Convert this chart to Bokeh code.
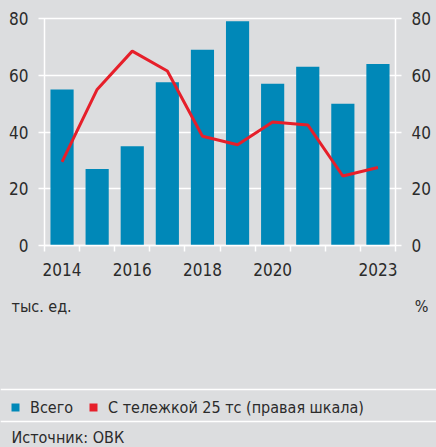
from bokeh.plotting import figure
from bokeh.models import Range1d, LinearAxis, FixedTicker, Legend, LegendItem, Label, Span
from bokeh.embed import file_html
from bokeh.resources import INLINE

# ---- data ----
years = [2014, 2015, 2016, 2017, 2018, 2019, 2020, 2021, 2022, 2023]
total = [55, 27, 35, 57.5, 69, 79, 57, 63, 50, 64]                  # тыс. ед. (left axis)
share = [29.5, 55, 68.5, 61.5, 38.5, 35.5, 43.5, 42.5, 24.5, 27.5]  # % (right axis)
y_ticks = [0, 20, 40, 60, 80]
x_label_years = [2014, 2016, 2018, 2020, 2023]
series_names = ["Всего", "С тележкой 25 тс (правая шкала)"]
unit_left = "тыс. ед."
unit_right = "%"
source_text = "Источник: ОВК"

# ---- style / layout ----
BG = "#dcdddf"
BLUE = "#0088b8"
RED = "#e61f2a"
TXT = "#2b2b2b"
FONT = "'DejaVu Sans Condensed', 'Roboto Condensed', 'Liberation Sans Narrow', Roboto, sans-serif"
FS = "16px"
TICK_FS = "17px"
W, H = 436, 447
PL, PR, PT, PB = 44, 395, 18, 245      # plot area in canvas pixels
Y_MAX = 80
TEXT_SHIFT = 5                          # baseline correction for screen labels

x0, x1 = years[0] - 0.5, years[-1] + 0.5
ppx = (PR - PL) / (x1 - x0)
ppy = (PB - PT) / Y_MAX
xr = Range1d(x0 - PL / ppx, x1 + (W - PR) / ppx)
yr = Range1d(-(H - PB) / ppy, Y_MAX + PT / ppy)

boundaries = [y - 0.5 for y in years] + [years[-1] + 0.5]

p = figure(width=W, height=H, min_border=0, x_range=xr, y_range=yr,
           x_axis_type=None, y_axis_type=None,
           output_backend="svg", toolbar_location=None)
p.extra_y_ranges = {"right": Range1d(yr.start, yr.end)}
p.background_fill_color = BG
p.border_fill_color = BG
p.outline_line_color = None
p.grid.visible = False

bars = p.vbar(x=years, top=total, width=0.66, fill_color=BLUE, line_color=None)
line = p.line(x=years, y=share, y_range_name="right", line_color=RED, line_width=3)
# square legend key for the line series (zero-width, invisible in plot)
red_key = p.vbar(x=years, top=share, bottom=share, width=0, y_range_name="right",
                 fill_color=RED, line_color=None)

left_axis = LinearAxis(fixed_location=x0, bounds=(0, Y_MAX), level="underlay")
right_axis = LinearAxis(fixed_location=x1, bounds=(0, Y_MAX), y_range_name="right")
p.add_layout(left_axis, "left")
p.add_layout(right_axis, "right")

for ax in [left_axis, right_axis]:
    ax.ticker = FixedTicker(ticks=y_ticks)
    ax.axis_line_color = "white"
    ax.axis_line_width = 1.5
    ax.major_tick_line_color = "white"
    ax.major_tick_line_width = 1.5
    ax.major_tick_out = 6
    ax.major_tick_in = 0
    ax.minor_tick_line_color = None
    ax.major_label_standoff = 10
    ax.major_label_text_font = FONT
    ax.major_label_text_font_size = TICK_FS
    ax.major_label_text_color = TXT
# horizontal grid lines: left-axis ticks drawn across the plot, behind the bars
left_axis.major_tick_in = PR - PL

xa = LinearAxis(fixed_location=0, bounds=(x0, x1))
p.add_layout(xa, "below")
xa.ticker = FixedTicker(ticks=x_label_years, minor_ticks=boundaries)
xa.axis_line_color = "white"
xa.axis_line_width = 1.5
xa.major_tick_out = 0
xa.major_tick_in = 0
xa.minor_tick_line_color = "white"
xa.minor_tick_line_width = 1.5
xa.minor_tick_out = 6
xa.minor_tick_in = 0
xa.major_label_standoff = 11
xa.major_label_text_font = FONT
xa.major_label_text_font_size = TICK_FS
xa.major_label_text_color = TXT

legend = Legend(items=[LegendItem(label=series_names[0], renderers=[bars]),
                       LegendItem(label=series_names[1], renderers=[red_key])],
                orientation="horizontal", location=(10, 30),
                glyph_width=10, glyph_height=10, label_standoff=10, spacing=15,
                padding=0, margin=0, border_line_alpha=0, background_fill_alpha=0,
                label_text_font=FONT, label_text_font_size=FS, label_text_color=TXT,
                label_height=20)
p.add_layout(legend, "center")

def screen_label(text, x, baseline_px, align):
    return Label(x=x, y=H - baseline_px + TEXT_SHIFT, x_units="screen", y_units="screen",
                 text=text, text_align=align, text_baseline="alphabetic",
                 text_font=FONT, text_font_size=FS, text_color=TXT)

p.add_layout(screen_label(unit_left, 11, 311, "left"))
p.add_layout(screen_label(unit_right, 428, 311, "right"))
p.add_layout(screen_label(source_text, 11, 442, "left"))

for yy in [389, 421]:
    p.add_layout(Span(location=H - yy, location_units="screen", dimension="width",
                      line_color="white", line_width=1.5))

html = file_html(p, INLINE)
html = html.replace("<head>", "<head><style>body{background:#dcdddf}</style>", 1)
open("out.html", "w").write(html)
